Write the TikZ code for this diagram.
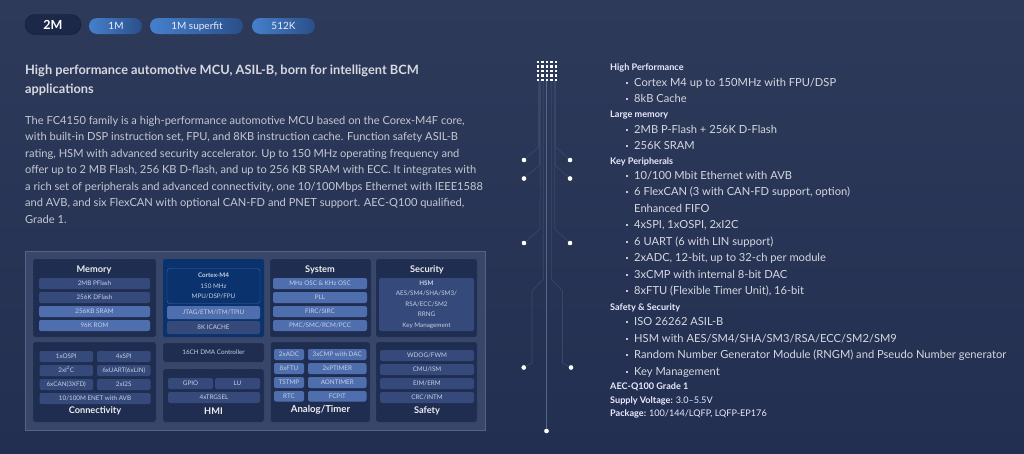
\documentclass[tikz,border=0pt]{standalone}
\usepackage{fontspec}
\setmainfont{Lato}
\definecolor{bgtop}{HTML}{2E3A5A}
\definecolor{bgbot}{HTML}{222F50}
\definecolor{panel}{HTML}{38466A}
\definecolor{panelline}{HTML}{56637F}
\definecolor{blockc}{HTML}{1F2D50}
\definecolor{cortexc}{HTML}{0A336E}
\definecolor{itemlight}{HTML}{4F6EAE}
\definecolor{itemdark}{HTML}{35497A}
\definecolor{itemtxt}{HTML}{C6D0E4}
\definecolor{headtxt}{HTML}{D6D9E0}
\definecolor{bodytxt}{HTML}{C4C8D2}
\definecolor{wirec}{HTML}{3A4868}
\definecolor{wirebright}{HTML}{566686}
\definecolor{tableft}{HTML}{4580CC}
\definecolor{tabright}{HTML}{2A4F88}
\tikzset{
 x=1pt,y=-1pt,
 blockbox/.style={draw=panelline,densely dotted,line width=.4pt,fill=blockc,rounded corners=2pt},
 cortexbox/.style={fill=cortexc,rounded corners=2pt},
 lightitem/.style={fill=itemlight,rounded corners=2pt},
 darkitem/.style={fill=itemdark,rounded corners=2pt},
 itemlabel/.style={text=itemtxt,font=\fontsize{6.3}{7}\selectfont,inner sep=0pt,text height=4.6pt,text depth=0.6pt},
 blocktitle/.style={text=white!92!blockc,font=\fontsize{9.2}{10}\bfseries\selectfont,inner sep=0pt,text height=6.8pt,text depth=1.2pt},
 tabshade/.style={left color=tableft,right color=tabright,rounded corners=8pt},
 tabtext/.style={text=white!92!blue,font=\fontsize{10}{11}\selectfont,inner sep=0pt,text height=7.2pt,text depth=0pt},
 heading/.style={anchor=base west,inner sep=0pt,text=headtxt,font=\fontsize{12.8}{15}\bfseries\selectfont},
 bodyline/.style={anchor=base west,inner sep=0pt,text=bodytxt,font=\fontsize{11.1}{13}\selectfont},
 subhead/.style={anchor=base west,inner sep=0pt,text=white!92!blue,font=\fontsize{9.1}{10}\bfseries\selectfont},
 bulletline/.style={anchor=base west,inner sep=0pt,text=bodytxt!70!white,font=\fontsize{11.15}{13}\selectfont},
 bulletdot/.style={fill=bodytxt,minimum size=2pt,inner sep=0pt,draw=none,rectangle},
 pindot/.style={circle,fill=white,minimum size=4.4pt,inner sep=0pt},
 wire/.style={draw=wirec,line width=.7pt},
 mainwire/.style={draw=wirebright,line width=1pt},
 dotcell/.style={fill=white,minimum size=2.6pt,inner sep=0pt,rectangle},
}
\newcommand{\itembox}[7]{%
 \path[#2] (#3,#4) rectangle (#5,#6);
 \node[itemlabel] (#1) at ({(#3+#5)/2},{(#4+#6)/2}) {#7};}
\newcommand{\blockrect}[6]{\path[#2] (#3,#4) rectangle (#5,#6) coordinate[pos=.5] (#1);}
\newcommand{\bulletitem}[3]{%
 \node[bulletdot] (b#1) at (626.5,#2-3.2) {};
 \node[bulletline] (t#1) at (634,#2) {#3};}
\begin{document}
\begin{tikzpicture}
\useasboundingbox (0,0) rectangle (1024,453);
\shade[top color=bgtop,bottom color=bgbot] (0,0) rectangle (1024,453);

% tabs
\path[fill=blockc!90!black,draw=blockc!60!black,line width=.4pt,rounded corners=10pt] (25,14.5) rectangle (81,34.5);
\node[tabtext,font=\fontsize{12.5}{14}\bfseries\selectfont,text=white,text height=9pt] (tab2m) at (53,24.5) {2M};
\shade[tabshade] (89,18) rectangle (142,34);
\node[tabtext] (tab1m) at (116,25.5) {1M};
\shade[tabshade] (150,18) rectangle (243,34);
\node[tabtext] (tabsf) at (197,25.5) {1M superfit};
\shade[tabshade] (252,18) rectangle (315,34);
\node[tabtext] (tab512) at (283.5,25.5) {512K};

% heading & body
\node[heading] (h1) at (25,74.5) {High performance automotive MCU, ASIL-B, born for intelligent BCM};
\node[heading] (h2) at (25,93) {applications};
\node[bodyline] (l1) at (25,124) {The FC4150 family is a high-performance automotive MCU based on the Corex-M4F core,};
\node[bodyline] (l2) at (25,140.5) {with built-in DSP instruction set, FPU, and 8KB instruction cache. Function safety ASIL-B};
\node[bodyline] (l3) at (25,157) {rating, HSM with advanced security accelerator. Up to 150 MHz operating frequency and};
\node[bodyline] (l4) at (25,173.5) {offer up to 2 MB Flash, 256 KB D-flash, and up to 256 KB SRAM with ECC. It integrates with};
\node[bodyline] (l5) at (25,190) {a rich set of peripherals and advanced connectivity, one 10/100Mbps Ethernet with IEEE1588};
\node[bodyline] (l6) at (25,206.5) {and AVB, and six FlexCAN with optional CAN-FD and PNET support. AEC-Q100 qualified,};
\node[bodyline] (l7) at (25,223) {Grade 1.};

% chip panel
\path[fill=panel,draw=panelline,line width=.6pt] (25,251) rectangle (485,430.5);

% Memory
\blockrect{memb}{blockbox}{33}{259}{156}{337}
\node[blocktitle] (memt) at (94,270) {Memory};
\itembox{m1}{darkitem}{39}{278}{150}{289}{2MB PFlash}
\itembox{m2}{darkitem}{39}{292}{150}{303}{256K DFlash}
\itembox{m3}{lightitem}{39}{306}{150}{317}{256KB SRAM}
\itembox{m4}{lightitem}{39}{320}{150}{331}{96K ROM}

% Cortex
\blockrect{corb}{cortexbox}{163}{259}{264}{337}
\path[draw=itemlight!80!cortexc,line width=.4pt,rounded corners=3pt] (167,268.5) rectangle (260,303.5);
\node[itemlabel,font=\fontsize{6.3}{7}\bfseries\selectfont] (c1) at (213.5,275) {Cortex-M4};
\node[itemlabel] (c2) at (213.5,286) {150 MHz};
\node[itemlabel] (c3) at (213.5,296.5) {MPU/DSP/FPU};
\itembox{c4}{lightitem}{167}{306}{260}{319}{JTAG/ETM/ITM/TPIU}
\itembox{c5}{darkitem}{167}{321}{260}{334}{8K ICACHE}

% System
\blockrect{sysb}{blockbox}{270}{259}{371}{337}
\node[blocktitle] (syst) at (320,270) {System};
\itembox{s1}{lightitem}{273}{278}{367}{289}{MHz OSC \& KHz OSC}
\itembox{s2}{lightitem}{273}{292}{367}{303}{PLL}
\itembox{s3}{lightitem}{273}{306}{367}{317}{FIRC/SIRC}
\itembox{s4}{lightitem}{273}{320}{367}{331}{PMC/SMC/RCM/PCC}

% Security
\blockrect{secb}{blockbox}{376}{259}{477}{337}
\node[blocktitle] (sect) at (427,269.5) {Security};
\path[darkitem] (379,278) rectangle (474,331);
\node[itemlabel,font=\fontsize{6.3}{7}\bfseries\selectfont] (h0) at (426.5,283) {HSM};
\node[itemlabel] (h3) at (426.5,293.5) {AES/SM4/SHA/SM3/};
\node[itemlabel] (h4) at (426.5,304) {RSA/ECC/SM2};
\node[itemlabel] (h5) at (426.5,314.5) {RRNG};
\node[itemlabel] (h6) at (426.5,325) {Key Management};

% Connectivity
\blockrect{conb}{blockbox}{33}{342}{156}{422}
\itembox{k1}{darkitem}{39.5}{351}{93}{362}{1xOSPI}
\itembox{k2}{darkitem}{97}{351}{150.5}{362}{4xSPI}
\itembox{k3}{darkitem}{39.5}{365}{93}{376}{2xI\textsuperscript{2}C}
\itembox{k4}{darkitem}{97}{365}{150.5}{376}{6xUART(6xLIN)}
\itembox{k5}{darkitem}{39.5}{379}{93}{390}{6xCAN(3XFD)}
\itembox{k6}{darkitem}{97}{379}{150.5}{390}{2xI2S}
\itembox{k7}{darkitem}{39.5}{393}{150.5}{404}{10/100M ENET with AVB}
\node[blocktitle] (cont) at (95,410.5) {Connectivity};

% DMA & HMI
\blockrect{dmab}{blockbox}{163}{343}{264}{362}
\node[itemlabel] (dmat) at (213.5,352.5) {16CH DMA Controller};
\blockrect{hmib}{blockbox}{163}{369}{264}{422}
\itembox{i1}{darkitem}{168}{378}{213}{389}{GPIO}
\itembox{i2}{darkitem}{215}{378}{260}{389}{LU}
\itembox{i3}{darkitem}{168}{392}{260}{403}{4xTRGSEL}
\node[blocktitle] (hmit) at (213.5,412) {HMI};

% Analog/Timer
\blockrect{anab}{blockbox}{270.5}{342}{370}{422}
\itembox{a1}{lightitem}{274}{349}{304}{360}{2xADC}
\itembox{a2}{lightitem}{308}{349}{366.5}{360}{3xCMP with DAC}
\itembox{a3}{lightitem}{274}{363}{304}{374}{8xFTU}
\itembox{a4}{lightitem}{308}{363}{366.5}{374}{2xPTIMER}
\itembox{a5}{lightitem}{274}{377}{304}{388}{TSTMP}
\itembox{a6}{lightitem}{308}{377}{366.5}{388}{AONTIMER}
\itembox{a7}{lightitem}{274}{391}{304}{401.5}{RTC}
\itembox{a8}{lightitem}{308}{391}{366.5}{401.5}{FCPIT}
\node[blocktitle,font=\fontsize{9.6}{10}\bfseries\selectfont] (anat) at (320.5,410) {Analog/Timer};

% Safety
\blockrect{safb}{blockbox}{376}{342}{477}{422}
\itembox{f1}{darkitem}{380}{350}{474}{361}{WDOG/FWM}
\itembox{f2}{darkitem}{380}{364}{474}{375}{CMU/ISM}
\itembox{f3}{darkitem}{380}{378}{474}{389}{EIM/ERM}
\itembox{f4}{darkitem}{380}{392}{474}{403}{CRC/INTM}
\node[blocktitle] (saft) at (427,410.5) {Safety};

% wires
\coordinate (w1) at (538.5,80);
\coordinate (w2) at (539.5,80);
\coordinate (w3) at (540.5,80);
\coordinate (w4) at (543.3,80);
\coordinate (w5) at (546.5,79);
\coordinate (w6) at (551.3,80);
\coordinate (w7) at (554.8,80);
\coordinate (w8) at (555.4,80);
\node[pindot] (pl1) at (524,160) {};
\node[pindot] (pl2) at (524,178.5) {};
\node[pindot] (pl3) at (524,243) {};
\node[pindot] (pl4) at (523.8,367.5) {};
\node[pindot] (pr1) at (570,160) {};
\node[pindot] (pr2) at (570,178.5) {};
\node[pindot] (pr3) at (570,243) {};
\node[pindot] (pr4) at (571,367.5) {};
\node[pindot] (pc) at (546.5,431) {};
\draw[wire] (w1) -- (538.5,147) -- (pl1.center);
\draw[wire] (w2) -- (539.5,165) -- (pl2.center);
\draw[wire] (w3) -- (540,229) -- (pl3.center);
\draw[wire] (w4) -- (543.3,279) -- (532,291) -- (532,363) -- (pl4.center);
\draw[wire] (w6) -- (551.3,279) -- (562.5,291) -- (562.5,363) -- (pr4.center);
\draw[wire] (w7) -- (554.8,229) -- (pr3.center);
\draw[wire] (w7) -- (555.2,165) -- (pr2.center);
\draw[wire] (w8) -- (555.5,147) -- (pr1.center);
\draw[mainwire] (w5) -- (pc.center);
\foreach \i in {0,...,4}{\foreach \j in {0,...,4}{
 \node[dotcell] (g\i\j) at ({537.8+4.5*\i},{62+4.5*\j}) {};}}
\node[pindot] at (pc) {};
\node[pindot] at (pl1) {};\node[pindot] at (pl2) {};\node[pindot] at (pl3) {};\node[pindot] at (pl4) {};
\node[pindot] at (pr1) {};\node[pindot] at (pr2) {};\node[pindot] at (pr3) {};\node[pindot] at (pr4) {};

% right column
\node[subhead] (r1) at (610,70) {High Performance};
\bulletitem{a}{86}{Cortex M4 up to 150MHz with FPU/DSP}
\bulletitem{b}{102.5}{8kB Cache}
\node[subhead] (r2) at (610,117.5) {Large memory};
\bulletitem{c}{133}{2MB P-Flash + 256K D-Flash}
\bulletitem{d}{149}{256K SRAM}
\node[subhead] (r3) at (610,164) {Key Peripherals};
\bulletitem{e}{179.5}{10/100 Mbit Ethernet with AVB}
\bulletitem{f}{195.5}{6 FlexCAN (3 with CAN-FD support, option)}
\node[bulletline] (te2) at (634,212) {Enhanced FIFO};
\bulletitem{g}{228.5}{4xSPI, 1xOSPI, 2xI2C}
\bulletitem{h}{245}{6 UART (6 with LIN support)}
\bulletitem{i}{261.5}{2xADC, 12-bit, up to 32-ch per module}
\bulletitem{j}{278}{3xCMP with internal 8-bit DAC}
\bulletitem{k}{294.5}{8xFTU (Flexible Timer Unit), 16-bit}
\node[subhead] (r4) at (610,310) {Safety \& Security};
\bulletitem{l}{325.5}{ISO 26262 ASIL-B}
\bulletitem{m}{342}{HSM with AES/SM4/SHA/SM3/RSA/ECC/SM2/SM9}
\bulletitem{n}{358.5}{Random Number Generator Module (RNGM) and Pseudo Number generator}
\bulletitem{o}{375}{Key Management}
\node[subhead] (r5) at (610,389.5) {AEC-Q100 Grade 1};
\node[subhead] (r6) at (610,403) {Supply Voltage: \mdseries 3.0–5.5V};
\node[subhead] (r7) at (610,416.5) {Package: \mdseries 100/144/LQFP, LQFP-EP176};
\end{tikzpicture}
\end{document}
